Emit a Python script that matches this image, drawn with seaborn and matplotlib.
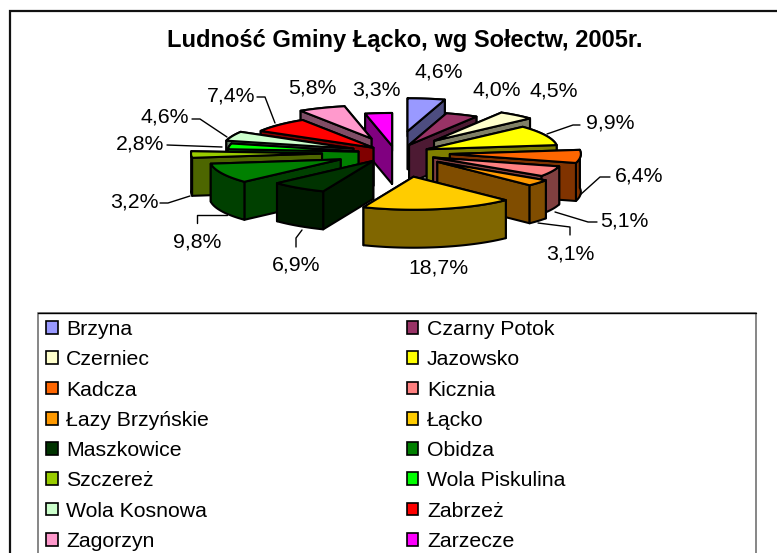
import numpy as np
import seaborn as sns
import matplotlib.pyplot as plt
from matplotlib.patches import Patch, Polygon, Rectangle

sns.set_theme(style='white')
plt.rcParams['font.family'] = ['Liberation Sans', 'DejaVu Sans']

# dane
solectwa = ['Brzyna', 'Czarny Potok', 'Czerniec', 'Jazowsko', 'Kadcza', 'Kicznia',
            'Łazy Brzyńskie', 'Łącko', 'Maszkowice', 'Obidza', 'Szczereż',
            'Wola Piskulina', 'Wola Kosnowa', 'Zabrzeż', 'Zagorzyn', 'Zarzecze']
udzial = [4.6, 4.0, 4.5, 9.9, 6.4, 5.1, 3.1, 18.7, 6.9, 9.8, 3.2, 2.8, 4.6, 7.4, 5.8, 3.3]
kolory = ['#9999FF', '#993366', '#FFFFCC', '#FFFF00', '#FF6600', '#FF8080', '#FF9900', '#FFCC00',
          '#003300', '#008000', '#99CC00', '#00FF00', '#CCFFCC', '#FF0000', '#FF99CC', '#FF00FF']

# wysuniecie kazdego wycinka, w pikselach
explode = [87, 35, 62, 35, 55, 42, 55, 96, 38, 60, 73, 37, 45, 30, 62, 28]

# uklad
cx, cy = 395, 153
rx, ry = 131, 33
grubosc = 38
k = ry / rx

# etykiety: srodek tekstu i linia odniesienia
etykiety = [(439, 72), (497, 90), (554, 91), (610, 123), (639, 176), (624, 221), (570, 254),
            (438, 268), (296, 265), (197, 242), (134, 202), (140, 144), (165, 117), (231, 96),
            (312, 88), (376, 90)]
linie = [[(547, 134), (573, 125), (580, 125)],
         [(580, 195), (600, 177), (610, 177)],
         [(555, 212), (588, 222), (597, 222)],
         [(538, 223), (570, 227), (570, 235)],
         [(302, 230), (296, 238), (296, 247)],
         [(227, 215), (197, 215), (197, 223)],
         [(190, 196), (168, 203), (160, 203)],
         [(222, 147), (167, 145)],
         [(227, 137), (200, 119), (192, 119)],
         [(275, 123), (265, 97), (257, 97)]]

fig = plt.figure(figsize=(7.77, 5.53), dpi=100)
ax = fig.add_axes([0, 0, 1, 1])
ax.set_xlim(0, 777)
ax.set_ylim(553, 0)
ax.axis('off')

# ramka wykresu (prawa i dolna krawedz poza obrazkiem) i ramka legendy
ax.add_patch(Rectangle((10, 11), 800, 600, fc='white', ec='#111111', lw=1.6))
ax.add_patch(Rectangle((38, 313), 718, 300, fc='white', ec='#666666', lw=1.1))
ax.plot([38, 756], [313, 313], color='black', lw=1)

paleta = sns.color_palette(kolory)
kat = np.cumsum([0] + udzial) / sum(udzial) * 2 * np.pi


def wycinek(i):
    t = np.linspace(kat[i], kat[i + 1], 40)
    mid = (kat[i] + kat[i + 1]) / 2
    ax0 = cx + explode[i] * np.sin(mid)
    ay0 = cy - explode[i] * np.cos(mid) * k
    x = ax0 + rx * np.sin(t)
    y = ay0 - ry * np.cos(t)
    ciemny = tuple(np.array(paleta[i]) * 0.5)
    luk = np.column_stack([x, y])
    sciany = [
        np.vstack([[ax0, ay0], luk[0], luk[0] + [0, grubosc], [ax0, ay0 + grubosc]]),
        np.vstack([[ax0, ay0], luk[-1], luk[-1] + [0, grubosc], [ax0, ay0 + grubosc]]),
        np.vstack([luk, (luk + [0, grubosc])[::-1]]),
    ]
    sciany.sort(key=lambda s: s[:, 1].mean())
    for s in sciany:
        ax.add_patch(Polygon(s, fc=ciemny, ec='black', lw=1.5, joinstyle='round'))
    ax.add_patch(Polygon(np.vstack([[ax0, ay0], luk]), fc=paleta[i], ec='black', lw=1.5, joinstyle='round'))


# od tylu do przodu
srodki = (kat[:-1] + kat[1:]) / 2
for i in np.argsort(-np.cos(srodki)):
    wycinek(i)

for (x, y), v in zip(etykiety, udzial):
    ax.text(x, y, f'{v:.1f}%'.replace('.', ','), ha='center', va='center', fontsize=15.3, color='black')
for l in linie:
    xs, ys = zip(*l)
    ax.plot(xs, ys, color='black', lw=1)

ax.text(405, 41, 'Ludność Gminy Łącko, wg Sołectw, 2005r.', ha='center', va='center',
        fontsize=17, fontweight='bold', color='black')

# legenda
uchwyty = [Patch(fc=c, ec='black', lw=1.2) for c in kolory]
# ncol=2 wypelnia kolumnami, a oryginal idzie wierszami
uch = uchwyty[0::2] + uchwyty[1::2]
naz = solectwa[0::2] + solectwa[1::2]
leg = ax.legend(uch, naz, ncol=2, loc='upper left', bbox_to_anchor=(46, 320),
                bbox_transform=ax.transData, fontsize=15.3, frameon=False,
                labelspacing=0.53, handlelength=0.55, handleheight=0.55,
                handletextpad=0.4, borderpad=0, borderaxespad=0,
                columnspacing=9.3, labelcolor='black')

fig.savefig('out.png', dpi=100)
